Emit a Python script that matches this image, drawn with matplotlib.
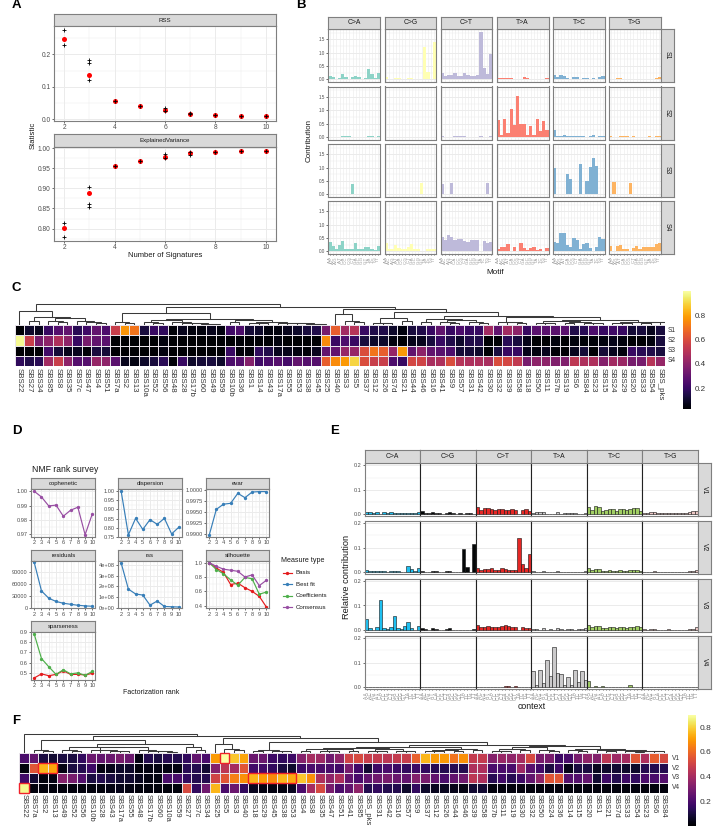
import numpy as np
import matplotlib
matplotlib.use("Agg")
import matplotlib.pyplot as plt
from matplotlib.patches import Rectangle

plt.rcParams['font.family'] = ['Liberation Sans', 'DejaVu Sans']

W, H = 715, 827

# panel A
ranks = [2, 3, 4, 5, 6, 7, 8, 9, 10]
rss_mean = [0.248, 0.137, 0.056, 0.039, 0.027, 0.017, 0.012, 0.010, 0.008]
rss_cross_x = [2, 2, 3, 3, 3, 4, 5, 6, 6, 7, 7, 8, 9, 10]
rss_cross_y = [0.275, 0.228, 0.182, 0.172, 0.120, 0.056, 0.039, 0.033, 0.024, 0.019, 0.015, 0.012, 0.010, 0.008]
ev_mean = [0.801, 0.889, 0.955, 0.969, 0.979, 0.987, 0.991, 0.993, 0.993]
ev_cross_x = [2, 2, 3, 3, 3, 4, 5, 6, 6, 7, 7, 8, 9, 10]
ev_cross_y = [0.815, 0.778, 0.903, 0.862, 0.854, 0.955, 0.969, 0.985, 0.975, 0.990, 0.984, 0.991, 0.993, 0.993]

# panel B
mutation_types = ["C>A", "C>G", "C>T", "T>A", "T>C", "T>G"]
motifs = ["A.A", "A.C", "A.G", "A.T", "C.A", "C.C", "C.G", "C.T",
          "G.A", "G.C", "G.G", "G.T", "T.A", "T.C", "T.G", "T.T"]
set3_colors = ["#8DD3C7", "#FFFFB3", "#BEBADA", "#FB8072", "#80B1D3", "#FDB462"]
s1_contrib = [
    [.12, .08, .03, .05, .20, .07, .03, .07, .12, .07, .02, .05, .37, .20, .05, .24],
    [.10, .02, .02, .06, .04, .02, .02, .05, .04, .02, .01, .01, 1.2, .27, .02, 1.4],
    [.22, .13, .16, .17, .22, .13, .13, .23, .16, .14, .13, .15, 1.79, .43, .20, .97],
    [.06, .05, .04, .05, .06, .03, .03, .02, .09, .04, .03, .02, .03, .03, .02, .05],
    [.17, .09, .17, .12, .06, .03, .09, .08, .03, .04, .05, .01, .05, .02, .10, .11],
    [.03, .01, .05, .05, .01, .01, .02, .03, .03, .01, .01, .02, .03, .02, .04, .07],
]
s2_contrib = [
    [.01, .01, .01, .01, .04, .04, .02, .01, .01, .01, .01, .01, .04, .03, .01, .03],
    [.00, .00, .00, .01, .00, .00, .00, .00, .01, .00, .00, .00, .01, .00, .00, .01],
    [.03, .01, .01, .01, .05, .05, .02, .03, .01, .01, .01, .01, .02, .01, .01, .02],
    [.63, .08, .66, .14, 1.04, .43, 1.55, .50, .50, .07, .40, .08, .66, .21, .61, .27],
    [.24, .03, .02, .07, .05, .05, .02, .03, .03, .03, .01, .02, .08, .01, .03, .03],
    [.05, .01, .01, .02, .02, .03, .01, .05, .01, .01, .01, .01, .03, .01, .03, .02],
]
s3_contrib = [
    [0, 0, 0, 0, 0, 0, 0, .40, 0, 0, 0, 0, 0, 0, 0, 0],
    [0, 0, 0, 0, 0, 0, 0, 0, 0, 0, 0, .42, 0, 0, 0, 0],
    [.40, 0, 0, .43, 0, 0, 0, 0, 0, 0, 0, 0, 0, 0, .44, 0],
    [.01, .01, .01, .01, .01, .01, .01, .01, .01, .01, .01, .01, .01, .01, .01, .01],
    [.99, 0, 0, 0, .76, .56, 0, 0, 1.14, 0, .51, 1.01, 1.35, 1.07, 0, 0],
    [0, .46, 0, 0, 0, 0, .42, 0, 0, 0, 0, 0, 0, 0, 0, 0],
]
s4_contrib = [
    [.36, .20, .10, .22, .38, .10, .07, .07, .31, .10, .08, .16, .15, .08, .05, .20],
    [.33, .08, .10, .23, .13, .08, .07, .15, .27, .07, .07, .02, .03, .10, .10, .09],
    [.55, .42, .60, .55, .43, .45, .46, .38, .35, .43, .43, .42, .02, .37, .33, .36],
    [.10, .17, .18, .27, .03, .15, .02, .30, .13, .05, .12, .17, .04, .10, .02, .13],
    [.35, .33, .70, .70, .25, .15, .50, .42, .07, .27, .30, .13, .01, .15, .53, .47],
    [.21, .01, .20, .25, .09, .07, .01, .14, .20, .08, .15, .17, .18, .18, .28, .30],
]

# panel C
c_labels = ["SBS22", "SBS27", "SBS34", "SBS85", "SBS8", "SBS35", "SBS7c", "SBS47", "SBS4", "SBS51",
            "SBS7a", "SBS2", "SBS13", "SBS10a", "SBS52", "SBS56", "SBS48", "SBS28", "SBS17b", "SBS60",
            "SBS49", "SBS59", "SBS10b", "SBS36", "SBS1", "SBS14", "SBS43", "SBS17a", "SBS55", "SBS53",
            "SBS38", "SBS45", "SBS25", "SBS40", "SBS3", "SBS5", "SBS37", "SBS12", "SBS26", "SBS7d",
            "SBS21", "SBS44", "SBS46", "SBS16", "SBS41", "SBS9", "SBS57", "SBS31", "SBS42", "SBS30",
            "SBS32", "SBS39", "SBS58", "SBS18", "SBS50", "SBS11", "SBS7b", "SBS19", "SBS6", "SBS84",
            "SBS23", "SBS15", "SBS24", "SBS29", "SBS20", "SBS33", "SBS54", "SBS_pks"]
c_rows = ["S1", "S2", "S3", "S4"]
c_s1 = [.03, .10, .08, .20, .27, .30, .17, .22, .30, .25, .55, .77, .70, .13, .20, .18, .04, .08, .05, .05,
        .08, .05, .22, .25, .12, .10, .05, .05, .08, .10, .13, .15, .35, .65, .45, .50, .20, .15, .15, .10,
        .05, .13, .15, .20, .30, .20, .25, .20, .20, .45, .30, .45, .40, .20, .28, .28, .28, .28, .15, .17,
        .25, .20, .22, .20, .12, .13, .08, .13]
c_s2 = [.98, .55, .35, .40, .48, .40, .20, .35, .30, .28, .03, .02, .02, .02, .03, .05, .02, .02, .02, .02,
        .03, .02, .02, .04, .02, .03, .03, .05, .03, .03, .03, .03, .75, .20, .25, .20, .13, .10, .10, .05,
        .03, .07, .08, .13, .20, .15, .10, .15, .15, .02, .03, .17, .13, .07, .03, .03, .05, .03, .05, .04,
        .04, .05, .07, .05, .03, .03, .05, .13]
c_s3 = [.03, .03, .02, .22, .12, .07, .08, .04, .13, .12, .02, .02, .02, .02, .03, .05, .02, .03, .02, .02,
        .02, .02, .20, .04, .04, .18, .15, .08, .07, .05, .04, .08, .30, .30, .42, .42, .60, .70, .65, .42,
        .78, .30, .40, .30, .28, .25, .12, .12, .10, .02, .13, .20, .20, .07, .05, .08, .04, .03, .08, .12,
        .03, .12, .08, .05, .20, .17, .15, .13]
c_s4 = [.18, .15, .17, .45, .55, .40, .27, .27, .42, .40, .28, .08, .06, .10, .13, .17, .04, .20, .10, .12,
        .13, .10, .25, .27, .38, .22, .24, .27, .23, .30, .27, .27, .65, .75, .78, .90, .60, .55, .55, .25,
        .20, .58, .57, .47, .48, .60, .50, .48, .48, .47, .60, .58, .53, .35, .40, .40, .37, .37, .52, .48,
        .48, .38, .45, .43, .35, .35, .50, .42]
# merges as (height, left, right), 0 is a leaf
c_tree = (20.7,
          (14, 0, (8.3, (4.3, 0, 0), (7.3, (4, 0, (3, 0, 0)), (4, 0, (3, 0, (2.5, 0, 0)))))),
          (18.3,
           (11.7, (3.5, 0, (2.5, 0, 0)),
            (5.7,
             (5.5, (3, 0, (2.5, 0, 0)), (3, 0, (2.5, 0, (2, 0, (1.5, 0, (1.5, 0, 0)))))),
             (5.5, (3, 0, 0), (3.5, (2.5, 0, (2, 0, 0)), (2.5, 0, (2, 0, (1.8, 0, (1.5, 0, (1.2, 0, 0)))))))
             )),
           (15.7,
            (10.7, 0, (4.3, 0, (3.3, 0, 0))),
            (13.3,
             (6.7, (2.5, 0, (2, 0, 0)), (4.3, 0, 0)),
             (9,
              (5.7, (3, 0, 0), (5, (2.7, 0, (2.3, 0, 0)), (3, 0, (2.5, 0, 0)))),
              (7.7, (3.3, 0, (2.7, 0, (2, 0, 0))),
               (5.5,
                (3.7, (2.5, 0, (2.2, 0, 0)), (3, (2, 0, 0), (2.5, 0, (2, 0, 0)))),
                (3.3, (2.5, 0, (2, 0, 0)), (3, (2.3, 0, 0), (2.8, 0, (2.2, 0, 0)))))))))))

# panel D
coph_vals = [1.0, .996, .9897, .9903, .9825, .9867, .9888, .9695, .9843]
disp_vals = [1.0, .76, .851, .79, .844, .818, .851, .765, .802]
evar_vals = [.9896, .9956, .9968, .9970, .9993, .9983, .9996, .9997, .9997]
resid_vals = [113000, 42000, 24000, 16000, 11500, 9000, 6500, 5000, 4000]
rss2_vals = [4.15e8, 1.75e8, 1.3e8, 1.2e8, .27e8, .65e8, .15e8, .12e8, .1e8]
sil_basis = [1.0, .925, .865, .695, .715, .65, .60, .53, .38]
sil_coef = [1.0, .905, .845, .76, .685, .795, .775, .56, .59]
sil_cons = [1.0, .95, .91, .895, .88, .80, .83, .68, .755]
spar_basis = [.45, .49, .472, .485, .52, .485, .485, .48, .495]
spar_coef = [.88, .64, .56, .485, .53, .49, .50, .475, .515]
measure_names = ["Basis", "Best fit", "Coefficients", "Consensus"]
measure_colors = ["#E41A1C", "#377EB8", "#4DAF4A", "#984EA3"]

# panel E
cosmic_colors = ["#1EBFF0", "#050708", "#E62725", "#CBCACB", "#A1CF64", "#EDC8C5"]
v1_contrib = [
    [.010, .009, .006, .009, .002, .008, .007, .009, .007, .006, .004, .004, .004, .004, .005, .009],
    [.012, .005, .005, .009, .006, .004, .003, .005, .008, .004, .003, .004, .002, .005, .005, .003],
    [.028, .017, .026, .026, .020, .018, .021, .022, .018, .016, .020, .018, .003, .017, .021, .014],
    [.006, .008, .008, .011, .002, .003, .002, .009, .003, .006, .005, .006, .005, .002, .003, .007],
    [.028, .017, .032, .030, .013, .018, .022, .020, .014, .021, .020, .016, .021, .025, .024, .014],
    [.005, .004, .010, .011, .004, .005, .004, .007, .007, .004, .005, .007, .007, .008, .013, .015],
]
v2_contrib = [
    [.008, .004, .004, .004, .006, .004, .002, .005, .006, .004, .001, .002, .025, .012, .004, .017],
    [.006, .001, .001, .005, .003, .001, .001, .004, .004, .001, .001, .001, .094, .021, .001, .113],
    [.017, .010, .012, .012, .016, .010, .010, .016, .012, .010, .010, .010, .139, .033, .016, .074],
    [.003, .002, .002, .005, .001, .001, .001, .005, .001, .002, .001, .001, .002, .001, .002, .006],
    [.016, .007, .014, .011, .006, .003, .008, .006, .004, .008, .006, .006, .008, .007, .010, .005],
    [.002, .002, .002, .003, .001, .002, .001, .002, .002, .001, .001, .002, .002, .003, .004, .009],
]
v3_contrib = [
    [.044, .009, .002, .011, .122, .010, .003, .012, .057, .010, .003, .018, .033, .010, .002, .018],
    [.010, .003, .002, .008, .005, .002, .001, .006, .007, .002, .001, .002, .001, .002, .001, .003],
    [.020, .012, .014, .016, .014, .011, .011, .018, .020, .017, .012, .012, .002, .014, .010, .010],
    [.005, .003, .002, .009, .001, .004, .002, .009, .003, .002, .003, .003, .002, .003, .005, .009],
    [.022, .011, .016, .015, .009, .007, .013, .012, .009, .012, .012, .010, .012, .012, .016, .012],
    [.004, .002, .003, .004, .001, .001, .001, .005, .001, .002, .002, .002, .002, .004, .005, .012],
]
v4_contrib = [
    [.001, 0, .001, .001, 0, 0, .001, .001, 0, 0, 0, 0, .001, .001, 0, 0],
    [0, 0, 0, .001, 0, 0, 0, 0, .001, 0, 0, 0, 0, 0, 0, 0],
    [.001, 0, .001, .001, .002, 0, .001, 0, .005, .005, .001, .003, .001, 0, 0, 0],
    [.067, .010, .070, .015, .112, .046, .166, .057, .054, .010, .041, .010, .070, .020, .067, .030],
    [.025, .002, .006, .001, .005, .001, .001, .001, .001, 0, .001, .001, .007, 0, 0, 0],
    [.001, .001, .001, .001, .001, .001, .001, .001, .001, 0, 0, .001, 0, .001, 0, .001],
]

# panel F
f_labels = ["SBS22", "SBS7a", "SBS2", "SBS13", "SBS49", "SBS52", "SBS56", "SBS10b", "SBS28", "SBS43",
            "SBS17a", "SBS55", "SBS48", "SBS17b", "SBS60", "SBS10a", "SBS59", "SBS27", "SBS7c", "SBS34",
            "SBS25", "SBS5", "SBS3", "SBS40", "SBS18", "SBS29", "SBS45", "SBS38", "SBS53", "SBS4",
            "SBS8", "SBS35", "SBS47", "SBS51", "SBS41", "SBS85", "SBS_pks", "SBS31", "SBS42", "SBS16",
            "SBS57", "SBS9", "SBS37", "SBS12", "SBS26", "SBS44", "SBS46", "SBS39", "SBS58", "SBS7b",
            "SBS11", "SBS19", "SBS30", "SBS32", "SBS50", "SBS24", "SBS36", "SBS14", "SBS15", "SBS20",
            "SBS1", "SBS21", "SBS7d", "SBS33", "SBS54", "SBS23", "SBS6", "SBS84"]
f_rows = ["V1", "V2", "V3", "V4"]
f_v1 = [.20, .25, .10, .08, .10, .10, .15, .27, .25, .27, .30, .27, .03, .12, .10, .13, .12, .15, .25, .20,
        .70, .95, .78, .72, .27, .27, .17, .15, .17, .33, .40, .38, .28, .35, .50, .52, .48, .47, .45, .47,
        .48, .58, .75, .70, .70, .62, .68, .47, .47, .33, .37, .35, .40, .52, .30, .30, .17, .20, .30, .35,
        .32, .45, .38, .40, .55, .42, .57, .52]
f_v2 = [.02, .55, .75, .72, .03, .10, .12, .17, .03, .04, .07, .07, .02, .03, .03, .03, .03, .13, .12, .08,
        .33, .45, .40, .55, .18, .18, .15, .10, .07, .17, .20, .20, .20, .18, .30, .18, .08, .17, .20, .17,
        .15, .17, .15, .13, .12, .13, .12, .42, .42, .20, .20, .20, .38, .23, .18, .10, .17, .04, .10, .10,
        .05, .07, .08, .07, .07, .12, .12, .12]
f_v3 = [.18, .08, .02, .03, .33, .30, .22, .10, .12, .10, .08, .08, .05, .03, .03, .20, .20, .15, .12, .12,
        .50, .55, .65, .68, .75, .70, .67, .75, .73, .78, .68, .42, .35, .42, .25, .20, .25, .28, .30, .27,
        .25, .32, .30, .25, .20, .25, .28, .45, .42, .13, .18, .13, .17, .25, .35, .55, .55, .22, .22, .25,
        .08, .17, .12, .17, .15, .20, .20, .22]
f_v4 = [.88, .02, .02, .02, .02, .02, .02, .02, .02, .03, .04, .03, .02, .02, .02, .02, .02, .52, .15, .28,
        .75, .20, .27, .15, .05, .03, .03, .03, .05, .20, .40, .52, .30, .20, .25, .35, .12, .15, .12, .12,
        .07, .15, .07, .05, .05, .04, .03, .08, .08, .02, .02, .02, .02, .02, .02, .02, .02, .02, .02, .02,
        .02, .02, .02, .02, .02, .02, .02, .02]
f_tree = (19, 0,
          (17.7,
           (13.3, (3, 0, (2.5, 0, 0)),
            (9.3,
             (6, (3.5, 0, (2.5, 0, 0)),
              (6.3, (3.3, 0, (3, 0, (2.3, 0, (2, 0, 0)))), (3, 0, (2.5, 0, (2, 0, (1.8, 0, 0)))))),
             (6, 0, (3.5, 0, 0)))),
           (15.7,
            (9.3, 0, (4, 0, (3, 0, 0))),
            (11.7,
             (3.3, (2.8, 0, 0), (2.5, 0, (2, 0, 0))),
             (8.3,
              (6.3,
               (5, (4.5, (2.5, 0, 0), (4, (2.5, 0, (2, 0, 0)), (2.5, 0, 0))),
                (4, (2.5, 0, (2, 0, 0)), (2.5, 0, (2, 0, 0)))),
               (4.5, (3.5, (2.5, 0, (2, 0, 0)), (2.5, 0, 0)), (3, 0, 0))),
              (7.3,
               (6, (4.5, (2.5, 0, (2, 0, 0)), (3, 0, 0)), (3.5, 0, (2.5, 0, 0))),
               (4, (3, 0, (2.5, 0, 0)),
                (3.5, (3, 0, (2, 0, 0)), (2.5, (2, 0, (1.8, 0, 0)), (2, 0, 0))))))))))
# (row, first column, number of columns) of the red boxes
f_boxes = [(3, 0, 1), (1, 2, 2), (0, 21, 1), (2, 24, 5)]

BORDER = "#7F7F7F"
GRID = "#EBEBEB"
TICK_TXT = "#4D4D4D"

fig = plt.figure(figsize=(W / 100, H / 100), dpi=100)


def px_axes(x0, y0, x1, y1):
    return fig.add_axes([x0 / W, 1 - y1 / H, (x1 - x0) / W, (y1 - y0) / H])


def px_text(x, y, s, **kw):
    kw.setdefault("ha", "center")
    kw.setdefault("va", "center")
    fig.text(x / W, 1 - y / H, s, **kw)


def style_panel(ax, xmajor, xminor, ymajor, yminor, size=4.2):
    ax.set_xticks(xmajor)
    ax.set_xticks(xminor, minor=True)
    ax.set_yticks(ymajor)
    ax.set_yticks(yminor, minor=True)
    ax.grid(True, which="major", color=GRID, lw=0.7)
    ax.grid(True, which="minor", color=GRID, lw=0.35)
    ax.set_axisbelow(True)
    ax.tick_params(which="minor", length=0)
    ax.tick_params(which="major", labelsize=size, length=1.5, width=0.5, color="#333333",
                   labelcolor=TICK_TXT, pad=1.0)
    for s in ax.spines.values():
        s.set_color(BORDER)
        s.set_linewidth(0.8)


def strip(x0, y0, x1, y1, text, rot=0, size=4.4):
    ax = px_axes(x0, y0, x1, y1)
    ax.set_facecolor("#D9D9D9")
    ax.set_xticks([])
    ax.set_yticks([])
    for s in ax.spines.values():
        s.set_color(BORDER)
        s.set_linewidth(0.8)
    ax.text(0.5, 0.5, text, transform=ax.transAxes, ha="center", va="center",
            fontsize=size, color="#1A1A1A", rotation=rot)
    return ax


def draw_tree(ax, node, cursor):
    # returns x centre of the node, leaves are laid out left to right
    if node == 0:
        x = cursor[0]
        cursor[0] += 1
        return x, 0
    h, left, right = node
    xl, hl = draw_tree(ax, left, cursor)
    xr, hr = draw_tree(ax, right, cursor)
    ax.plot([xl, xl, xr, xr], [hl, h, h, hr], color="#3A3A3A", lw=0.75, solid_joinstyle="miter")
    return (xl + xr) / 2, h


def heatmap(box, vals, labels, rows, tree, tree_h, vmin, vmax, row_x, label_size):
    x0, y0, x1, y1 = box
    ax = px_axes(x0, y0, x1, y1)
    mat = np.array(vals)
    mesh = ax.pcolormesh(np.arange(mat.shape[1] + 1), np.arange(mat.shape[0] + 1), mat, cmap="inferno",
                         vmin=vmin, vmax=vmax, edgecolors="#E8E3EA", linewidth=0.5)
    ax.set_xlim(0, mat.shape[1])
    ax.set_ylim(mat.shape[0], 0)
    ax.set_xticks(np.arange(mat.shape[1]) + 0.5, labels, rotation=270, fontsize=label_size, color="#333333")
    ax.tick_params(axis="x", length=0, pad=1.2)
    ax.set_yticks([])
    for s in ax.spines.values():
        s.set_visible(False)
    row_h = (y1 - y0) / len(rows)
    for i, r in enumerate(rows):
        px_text(row_x, y0 + (i + 0.5) * row_h, r, fontsize=4.7, color="#333333", ha="left")
    tree_ax = px_axes(x0, y0 - tree_h, x1, y0)
    draw_tree(tree_ax, tree, [0.5])
    tree_ax.set_xlim(0, mat.shape[1])
    tree_ax.set_ylim(0, tree_h)
    tree_ax.axis("off")
    return ax, mesh


def colorbar(box, mesh, ticks, size=5.8):
    cax = px_axes(*box)
    cb = fig.colorbar(mesh, cax=cax)
    cb.set_ticks(ticks)
    cb.outline.set_visible(False)
    cb.ax.tick_params(length=0, labelsize=size, labelcolor="#333333", pad=3)


# A
panel_a = [
    (26, 121, "RSS", rss_mean, rss_cross_x, rss_cross_y, (-0.006, 0.288), [0, .1, .2], [.05, .15, .25], ["0.0", "0.1", "0.2"], 14),
    (147, 241, "ExplainedVariance", ev_mean, ev_cross_x, ev_cross_y, (.769, 1.003), [.8, .85, .9, .95, 1.0],
     [.775, .825, .875, .925, .975], ["0.80", "0.85", "0.90", "0.95", "1.00"], 134),
]
for y0, y1, name, mean, cx, cy, ylim, yt, ym, ytl, stop in panel_a:
    strip(54, stop, 276, y0, name)
    ax = px_axes(54, y0, 276, y1)
    style_panel(ax, [2, 4, 6, 8, 10], [3, 5, 7, 9], yt, ym, size=4.8)
    ax.set_yticklabels(ytl)
    ax.plot(ranks, mean, "o", color="#FF0000", ms=3.6, mew=0, clip_on=False)
    ax.plot(cx, cy, "+", color="black", ms=3.2, mew=0.6, clip_on=False)
    ax.set_xlim(1.6, 10.4)
    ax.set_ylim(*ylim)
px_text(165, 255.5, "Number of Signatures", fontsize=5.5, color="#1A1A1A")
px_text(33, 135, "Statistic", fontsize=5.5, color="#1A1A1A", rotation=90)

# B
b_cols = [(328.3, 380), (384.5, 436), (440.5, 492.3), (496.7, 548.5), (553, 604.7), (609, 661)]
b_rows = [(29, 82), (86.5, 139.5), (144, 197), (201, 254)]
b_names = ["S1", "S2", "S3", "S4"]
b_data = [s1_contrib, s2_contrib, s3_contrib, s4_contrib]
for i, (y0, y1) in enumerate(b_rows):
    for j, (x0, x1) in enumerate(b_cols):
        ax = px_axes(x0, y0, x1, y1)
        style_panel(ax, np.arange(16), [], [0, .5, 1, 1.5], [.25, .75, 1.25, 1.75], size=3.3)
        ax.grid(True, which="major", axis="x", color=GRID, lw=0.4)
        ax.bar(np.arange(16), b_data[i][j], width=1, color=set3_colors[j], lw=0)
        ax.set_xlim(-0.5, 15.5)
        ax.set_ylim(-0.1, 1.89)
        ax.tick_params(axis="x", length=1 if i == 3 else 0, labelsize=3.2, pad=0.8, labelcolor="#9A9A9A",
                       labelbottom=(i == 3))
        ax.set_xticklabels(motifs, rotation=90)
        if j == 0:
            ax.set_yticklabels(["0.0", "0.5", "1.0", "1.5"])
        else:
            ax.tick_params(axis="y", length=0, labelleft=False)
        if i == 0:
            strip(x0, 16.5, x1, y0, mutation_types[j], size=4.85)
    strip(661, y0, 674, y1, b_names[i], rot=270, size=4.85)
px_text(309, 140, "Contribution", fontsize=5.75, color="#1A1A1A", rotation=90)
px_text(495, 272, "Motif", fontsize=5.9, color="#1A1A1A")

# C
ax_c, mesh_c = heatmap((14.7, 325, 665, 366), [c_s1, c_s2, c_s3, c_s4], c_labels, c_rows, c_tree, 22, 0.027, 1.0, 667.5, 5.7)
colorbar((683, 291, 691, 409), mesh_c, [.2, .4, .6, .8])

# D
d_ticks = [2, 3, 4, 5, 6, 7, 8, 9, 10]
d_minor = [2.5, 3.5, 4.5, 5.5, 6.5, 7.5, 8.5, 9.5]
d_cols = [(31.3, 95.3), (118.3, 181.7), (206.3, 269.3)]
d_rows = [(478, 489, 537), (549.7, 560.7, 608.3), (621, 632, 679.5)]
d_panels = [
    (0, 0, "cophenetic", [(coph_vals, 3)], (.9679, 1.0016), [.97, .98, .99, 1.0], ["0.97", "0.98", "0.99", "1.00"]),
    (0, 1, "dispersion", [(disp_vals, 1)], (.748, 1.013), [.75, .8, .85, .9, .95, 1.0], ["0.75", "0.80", "0.85", "0.90", "0.95", "1.00"]),
    (0, 2, "evar", [(evar_vals, 1)], (.98923, 1.0003), [.99, .9925, .995, .9975, 1.0], ["0.9900", "0.9925", "0.9950", "0.9975", "1.0000"]),
    (1, 0, "residuals", [(resid_vals, 1)], (-1000, 117000), [0, 30000, 60000, 90000], ["0", "30000", "60000", "90000"]),
    (1, 1, "rss", [(rss2_vals, 1)], (-.02e8, 4.37e8), [0, 1e8, 2e8, 3e8, 4e8], ["0e+00", "1e+08", "2e+08", "3e+08", "4e+08"]),
    (1, 2, "silhouette", [(sil_basis, 0), (sil_coef, 2), (sil_cons, 3)], (.363, 1.028), [.4, .6, .8, 1.0], ["0.4", "0.6", "0.8", "1.0"]),
    (2, 0, "sparseness", [(spar_basis, 0), (spar_coef, 2)], (.435, .9), [.5, .6, .7, .8, .9], ["0.5", "0.6", "0.7", "0.8", "0.9"]),
]
for r, c, name, series, ylim, yt, ytl in d_panels:
    x0, x1 = d_cols[c]
    s0, y0, y1 = d_rows[r]
    strip(x0, s0, x1, y0, name, size=4.3)
    ax = px_axes(x0, y0, x1, y1)
    ym = (np.array(yt[:-1]) + np.array(yt[1:])) / 2
    style_panel(ax, d_ticks, d_minor, yt, ym, size=4.1)
    ax.set_yticklabels(ytl)
    for vals, idx in series:
        ax.plot(ranks, vals, "-o", color=measure_colors[idx], lw=0.85, ms=2.4, mew=0, clip_on=False)
    ax.set_xlim(1.6, 10.4)
    ax.set_ylim(*ylim)
px_text(32, 470, "NMF rank survey", fontsize=6.2, color="#1A1A1A", ha="left")
px_text(150.7, 693, "Factorization rank", fontsize=5, color="#1A1A1A")
px_text(281, 560.7, "Measure type", fontsize=5.1, color="#1A1A1A", ha="left")
legend_ax = px_axes(281, 566, 330, 613)
legend_ax.set_xlim(281, 330)
legend_ax.set_ylim(613, 566)
legend_ax.axis("off")
for i, (name, col) in enumerate(zip(measure_names, measure_colors)):
    ly = 572.7 + i * 11.5
    legend_ax.plot([283, 292], [ly, ly], "-", color=col, lw=0.85)
    legend_ax.plot([287.5], [ly], "o", color=col, ms=2.4, mew=0)
    legend_ax.text(295.7, ly, name, fontsize=4.45, color="#1A1A1A", va="center", ha="left")

# E
e_cols = [(365, 420.3), (420.3, 475.7), (475.7, 531.3), (531.3, 587), (587, 642.3), (642.3, 698)]
e_rows = [(463.3, 516.3), (521, 574), (579, 632), (636.3, 689)]
e_names = ["V1", "V2", "V3", "V4"]
e_data = [v1_contrib, v2_contrib, v3_contrib, v4_contrib]
for i, (y0, y1) in enumerate(e_rows):
    for j, (x0, x1) in enumerate(e_cols):
        ax = px_axes(x0, y0, x1, y1)
        style_panel(ax, np.arange(16), [], [0, .1, .2], [.05, .15], size=4.0)
        ax.grid(False, axis="x", which="both")
        ax.bar(np.arange(16), e_data[i][j], width=1, color=cosmic_colors[j], edgecolor="#111111", lw=0.4)
        ax.set_xlim(-0.5, 15.5)
        ax.set_ylim(-0.008, 0.208)
        ax.tick_params(axis="x", length=1 if i == 3 else 0, labelsize=3.4, pad=0.8, labelcolor="#8A8A8A",
                       labelbottom=(i == 3))
        ax.set_xticklabels(motifs, rotation=90)
        if j == 0:
            ax.set_yticklabels(["0.0", "0.1", "0.2"])
        else:
            ax.tick_params(axis="y", length=0, labelleft=False)
            ax.spines["left"].set_color("#222222")
        if i == 0:
            strip(x0, 450.3, x1, y0, mutation_types[j], size=4.85)
    strip(698, y0, 711, y1, e_names[i], rot=270, size=4.85)
px_text(346.7, 576.7, "Relative contribution", fontsize=6.7, color="#1A1A1A", rotation=90)
px_text(531.7, 706.7, "context", fontsize=6.3, color="#1A1A1A")

# F
ax_f, mesh_f = heatmap((19.3, 753.3, 668.3, 792.7), [f_v1, f_v2, f_v3, f_v4], f_labels, f_rows, f_tree, 21, 0.0, 0.9, 671.5, 5.5)
for row, col, n in f_boxes:
    ax_f.add_patch(Rectangle((col, row), n, 1, fill=False, edgecolor="#F0222A", lw=1.0, clip_on=False, zorder=5))
colorbar((687.7, 715, 695.7, 825.7), mesh_f, [.2, .4, .6, .8], size=6)

# panel letters
for letter, lx, ly in [("A", 16.5, 5.5), ("B", 300.5, 5.5), ("C", 16.5, 288), ("D", 16.5, 431.5), ("E", 335, 431.5), ("F", 16, 721.5)]:
    px_text(lx, ly, letter, fontsize=9.5, fontweight="bold", color="black")

fig.savefig("out.png", dpi=100)
